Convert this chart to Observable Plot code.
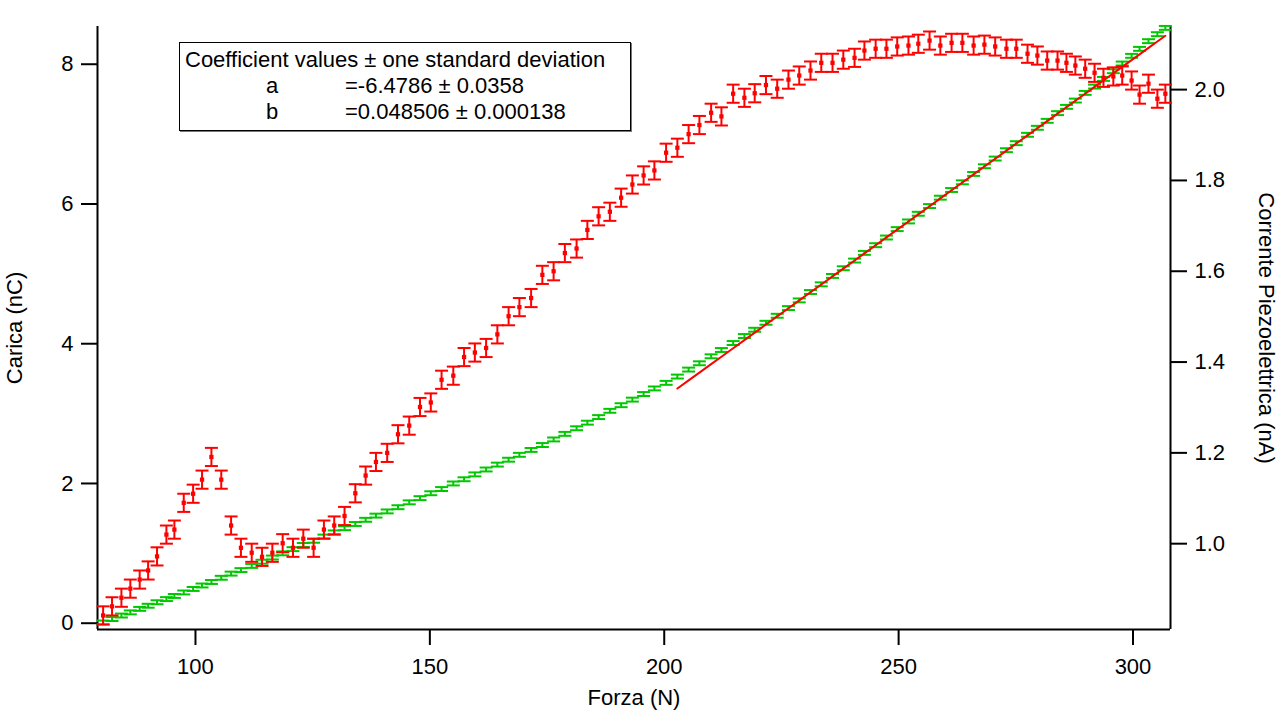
<!DOCTYPE html>
<html>
<head>
<meta charset="utf-8">
<script src="https://cdn.jsdelivr.net/npm/d3@7"></script>
<script src="https://cdn.jsdelivr.net/npm/@observablehq/plot@0.6"></script>
<style>
  html, body { margin: 0; padding: 0; background: #fff; }
  #wrap { position: relative; width: 1280px; height: 712px; font-family: "Liberation Sans", Arial, sans-serif; color: #000; }
  #box { position: absolute; left: 179px; top: 42px; width: 452px; height: 89px; box-sizing: border-box;
         border: 1.5px solid #000; background: #fff; box-shadow: 1px 1px 0 #777; }
  #box div { position: absolute; font-size: 22px; line-height: 26px; height: 26px; white-space: nowrap; }
</style>
</head>
<body>
<div id="wrap"></div>
<script>
// ---- data ----
const forza = [
  80.3, 82.2, 84.2, 86.1, 88.1, 89.9, 91.8, 93.8, 95.5, 97.5,
  99.5, 101.4, 103.4, 105.5, 107.6, 109.7, 112.0, 114.2, 116.4, 118.6,
  120.8, 123.0, 125.2, 127.4, 129.6, 131.8, 134.1, 136.3, 138.5, 140.9,
  143.2, 145.6, 147.9, 150.2, 152.5, 155.0, 157.3, 159.6, 162.0, 164.4,
  166.8, 169.1, 171.6, 174.0, 176.4, 178.8, 181.3, 183.6, 186.0, 188.4,
  190.8, 193.2, 195.6, 197.9, 200.4, 202.8, 205.2, 207.5, 210.0, 212.2,
  214.7, 217.1, 219.3, 221.7, 224.1, 226.5, 228.8, 231.2, 233.5, 235.9,
  238.2, 240.6, 242.7, 245.1, 247.4, 249.7, 252.1, 254.2, 256.6, 258.9,
  261.3, 263.6, 266.0, 268.3, 270.6, 273.0, 275.1, 277.5, 279.6, 281.7,
  283.9, 285.8, 287.7, 289.8, 291.8, 293.7, 295.8, 297.7, 299.7, 301.4,
  303.3, 305.2, 306.9
];
// Carica (nC), left axis, green
const carica = [
  0.01, 0.06, 0.11, 0.155, 0.205, 0.25, 0.30, 0.345, 0.39, 0.44,
  0.49, 0.54, 0.59, 0.65, 0.71, 0.76, 0.82, 0.88, 0.94, 1.00,
  1.06, 1.12, 1.18, 1.24, 1.30, 1.36, 1.42, 1.48, 1.54, 1.60,
  1.66, 1.73, 1.79, 1.86, 1.92, 2.00, 2.06, 2.13, 2.20, 2.27,
  2.34, 2.41, 2.48, 2.55, 2.63, 2.71, 2.79, 2.87, 2.95, 3.04,
  3.12, 3.20, 3.28, 3.36, 3.44, 3.53, 3.63, 3.72, 3.82, 3.91,
  4.01, 4.11, 4.20, 4.30, 4.40, 4.51, 4.62, 4.74, 4.85, 4.97,
  5.08, 5.19, 5.30, 5.41, 5.52, 5.64, 5.75, 5.86, 5.97, 6.09,
  6.20, 6.31, 6.43, 6.54, 6.65, 6.77, 6.87, 6.99, 7.09, 7.19,
  7.30, 7.39, 7.48, 7.59, 7.68, 7.79, 7.90, 8.01, 8.12, 8.22,
  8.33, 8.43, 8.52
];
const caricaSigma = 0.028;
// Corrente Piezoelettrica (nA), right axis, red
const corrente = [
  0.842, 0.862, 0.881, 0.901, 0.921, 0.941, 0.972, 1.020, 1.031, 1.090,
  1.110, 1.141, 1.191, 1.141, 1.040, 0.991, 0.980, 0.971, 0.980, 1.001,
  0.991, 1.011, 0.991, 1.031, 1.040, 1.061, 1.111, 1.150, 1.180, 1.200,
  1.241, 1.260, 1.301, 1.311, 1.361, 1.370, 1.411, 1.421, 1.431, 1.461,
  1.501, 1.521, 1.541, 1.592, 1.600, 1.640, 1.650, 1.691, 1.721, 1.731,
  1.762, 1.791, 1.811, 1.822, 1.861, 1.872, 1.902, 1.922, 1.949, 1.941,
  1.991, 1.982, 1.992, 2.010, 2.002, 2.022, 2.031, 2.042, 2.059, 2.059,
  2.066, 2.070, 2.086, 2.090, 2.090, 2.095, 2.097, 2.101, 2.108, 2.097,
  2.103, 2.103, 2.097, 2.099, 2.095, 2.090, 2.090, 2.079, 2.075, 2.064,
  2.064, 2.059, 2.053, 2.046, 2.037, 2.026, 2.029, 2.031, 2.020, 1.989,
  2.013, 1.980, 1.991
];
const correnteSigma = 0.02;
// linear fit y = a + b x
const fitA = -6.4786, fitB = 0.048506;
const fitFrom = 202.8;

const xDomain = [79.1, 308.0];
const leftDomain = [-0.09, 8.54];
const rightDomain = [0.811, 2.139];
const xTicks = [100, 150, 200, 250, 300];
const yLeftTicks = [0, 2, 4, 6, 8];
const yRightTicks = [1.0, 1.2, 1.4, 1.6, 1.8, 2.0];

// ---- build ----
const n = Math.min(forza.length, carica.length, corrente.length);
const toLeft = d3.scaleLinear().domain(rightDomain).range(leftDomain);
const green = d3.range(n).map(i => ({f: forza[i], v: carica[i], lo: carica[i] - caricaSigma, hi: carica[i] + caricaSigma}));
const red = d3.range(n).map(i => ({f: forza[i], v: toLeft(corrente[i]), lo: toLeft(corrente[i] - correnteSigma), hi: toLeft(corrente[i] + correnteSigma)}));
const fit = forza.filter(f => f >= fitFrom).map(f => ({f, v: fitA + fitB * f}));

const cap = { draw(ctx, size) { const r = Math.sqrt(size / Math.PI); ctx.moveTo(-r, 0); ctx.lineTo(r, 0); } };
const GREEN = "#00c800", RED = "#ff0000";
const FS = 22;

const chart = Plot.plot({
  width: 1280, height: 712,
  marginLeft: 97, marginRight: 110, marginTop: 26, marginBottom: 83,
  x: {domain: xDomain},
  y: {domain: leftDomain},
  style: {fontFamily: "'Liberation Sans', Arial, sans-serif", fontSize: FS + "px", color: "#000", background: "#fff", overflow: "visible"},
  marks: [
    Plot.axisX({ticks: xTicks, tickSize: 16, tickPadding: 13, tickFormat: d => String(d), label: null, fontSize: FS, strokeWidth: 2}),
    Plot.axisY({ticks: yLeftTicks, anchor: "left", tickSize: 16, tickPadding: 8, tickFormat: d => String(d), label: null, fontSize: FS, strokeWidth: 2}),
    Plot.axisY({ticks: yRightTicks.map(toLeft), anchor: "right", tickSize: 16, tickPadding: 8,
      tickFormat: d => d3.format(".1f")(toLeft.invert(d)), label: null, fontSize: FS, strokeWidth: 2}),
    Plot.ruleY([leftDomain[0]], {stroke: "#000", strokeWidth: 2}),
    Plot.ruleX([xDomain[0]], {stroke: "#000", strokeWidth: 2}),
    Plot.ruleX([xDomain[1]], {stroke: "#000", strokeWidth: 2}),
    // green series
    Plot.ruleX(green, {x: "f", y1: "lo", y2: "hi", stroke: GREEN, strokeWidth: 2}),
    Plot.dot(green, {x: "f", y: "lo", symbol: cap, r: 6.5, stroke: GREEN, strokeWidth: 2, fill: "none"}),
    Plot.dot(green, {x: "f", y: "hi", symbol: cap, r: 6.5, stroke: GREEN, strokeWidth: 2, fill: "none"}),
    // red series
    Plot.ruleX(red, {x: "f", y1: "lo", y2: "hi", stroke: RED, strokeWidth: 2}),
    Plot.dot(red, {x: "f", y: "lo", symbol: cap, r: 6.5, stroke: RED, strokeWidth: 2, fill: "none"}),
    Plot.dot(red, {x: "f", y: "hi", symbol: cap, r: 6.5, stroke: RED, strokeWidth: 2, fill: "none"}),
    Plot.dot(red, {x: "f", y: "v", symbol: "square", r: 2.4, fill: RED, stroke: "none"}),
    // fit
    Plot.line(fit, {x: "f", y: "v", stroke: RED, strokeWidth: 2}),
    // axis titles
    Plot.text(["Forza (N)"], {text: d => d, frameAnchor: "bottom", dy: 68, lineAnchor: "middle", textAnchor: "middle", fontSize: FS}),
    Plot.text(["Carica (nC)"], {text: d => d, frameAnchor: "left", dx: -83, rotate: -90, lineAnchor: "middle", textAnchor: "middle", fontSize: FS}),
    Plot.text(["Corrente Piezoelettrica (nA)"], {text: d => d, frameAnchor: "right", dx: 96, rotate: 90, lineAnchor: "middle", textAnchor: "middle", fontSize: FS})
  ]
});

const wrap = document.getElementById("wrap");
wrap.appendChild(chart);

const box = document.createElement("div");
box.id = "box";
box.innerHTML =
  '<div style="left:5px;top:4px">Coefficient values ± one standard deviation</div>' +
  '<div style="left:86px;top:30px">a</div><div style="left:165px;top:30px">=-6.4786 ± 0.0358</div>' +
  '<div style="left:86px;top:56px">b</div><div style="left:165px;top:56px">=0.048506 ± 0.000138</div>';
wrap.appendChild(box);
</script>
</body>
</html>
